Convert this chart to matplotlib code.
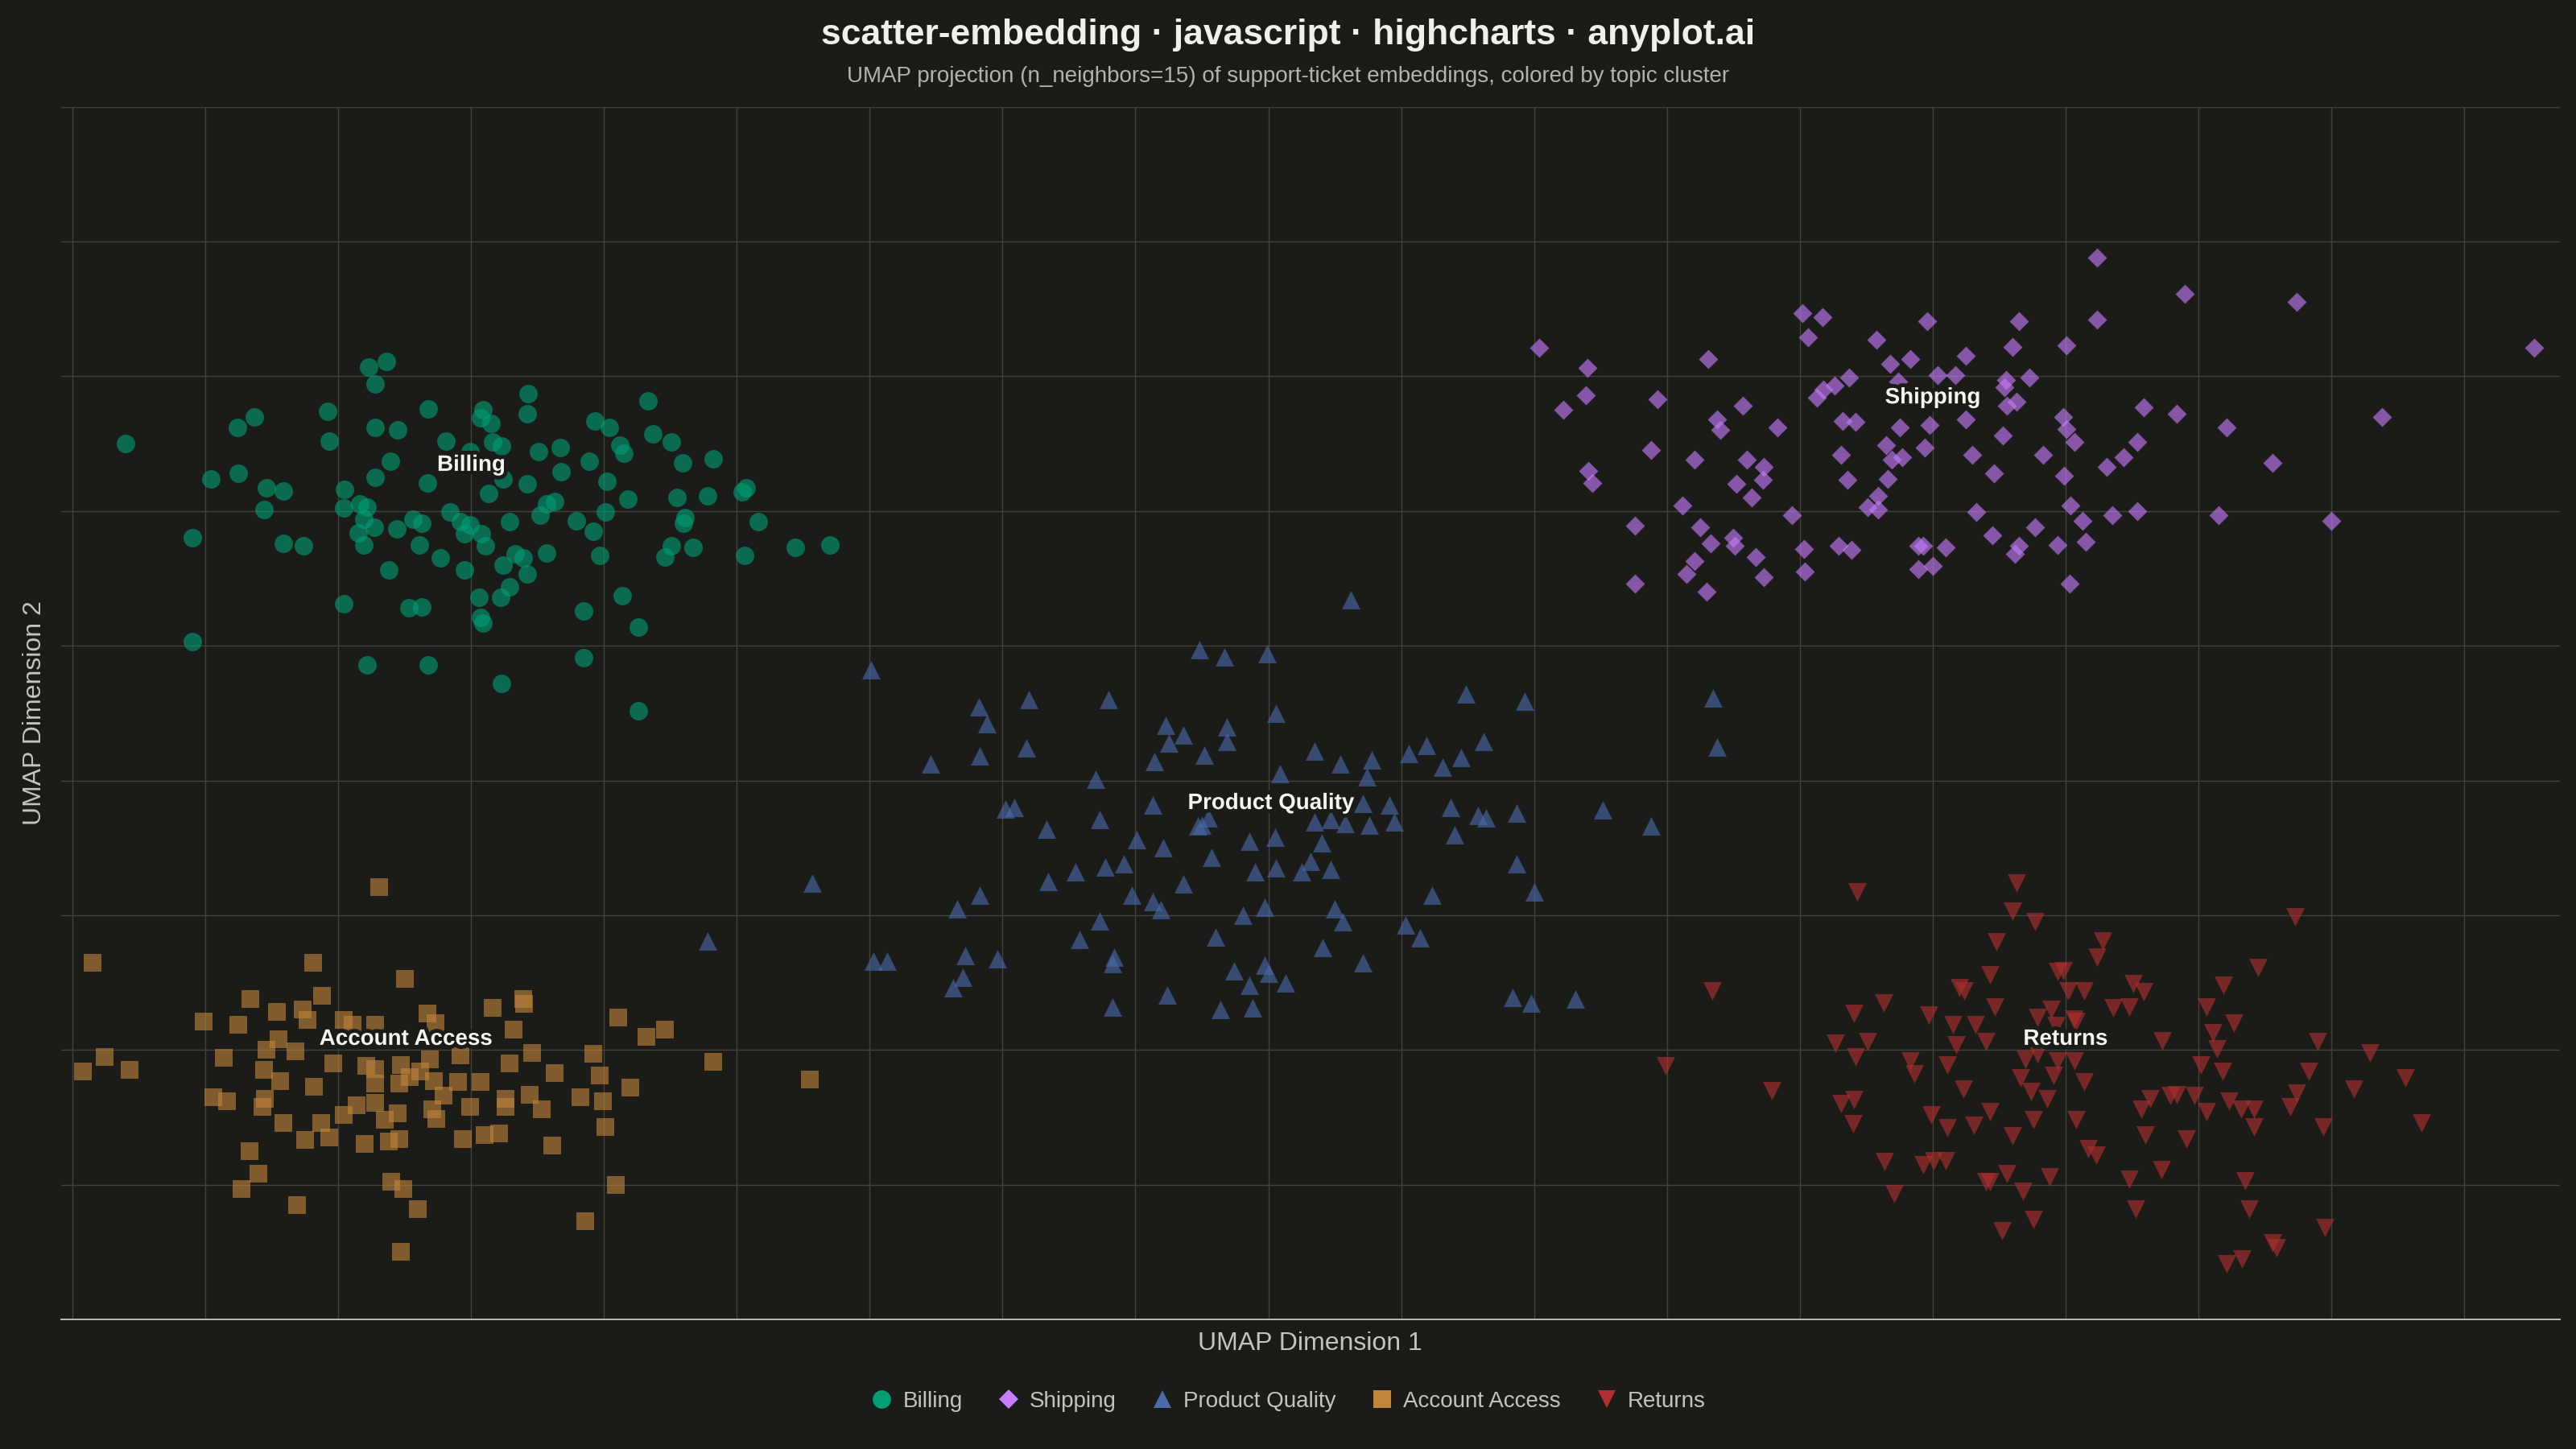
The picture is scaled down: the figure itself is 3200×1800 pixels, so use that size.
import matplotlib
matplotlib.use('Agg')
import matplotlib.pyplot as plt
import matplotlib.patheffects as pe
from matplotlib.lines import Line2D
import numpy as np

plt.rcParams['font.family'] = ['Liberation Sans', 'DejaVu Sans']

# UMAP coordinates (x, y), one list per topic cluster
BILLING = [
    (0.40, 6.50), (1.24, 6.62), (1.37, 6.70), (1.92, 6.74), (1.93, 6.52), (2.23, 7.07),
    (2.36, 7.11), (2.28, 6.94), (2.28, 6.62), (2.45, 6.60), (2.68, 6.76), (3.09, 6.75),
    (3.07, 6.69), (3.15, 6.65), (3.43, 6.87), (3.42, 6.72), (4.33, 6.82), (3.93, 6.67),
    (4.04, 6.62), (4.37, 6.57), (4.51, 6.51), (4.12, 6.49), (4.15, 6.43), (4.82, 6.39),
    (4.59, 6.36), (2.81, 6.52), (2.99, 6.44), (3.16, 6.51), (3.23, 6.48), (3.51, 6.44),
    (3.67, 6.47), (3.89, 6.37), (3.68, 6.29), (2.39, 6.37), (2.28, 6.25), (2.67, 6.21),
    (3.24, 6.24), (3.42, 6.20), (3.13, 6.13), (4.02, 6.22), (4.18, 6.09), (4.55, 6.10),
    (4.78, 6.11), (5.04, 6.14), (5.07, 6.17), (1.04, 6.24), (1.25, 6.28), (1.46, 6.17),
    (1.59, 6.15), (1.44, 6.01), (2.05, 6.16), (2.04, 6.02), (2.16, 6.05), (2.22, 6.03),
    (2.19, 5.94), (2.27, 5.88), (2.15, 5.84), (2.19, 5.75), (2.44, 5.87), (2.56, 5.94),
    (2.63, 5.91), (2.84, 5.99), (2.92, 5.92), (2.99, 5.90), (2.95, 5.83), (3.08, 5.83),
    (3.11, 5.74), (3.29, 5.92), (3.52, 5.97), (3.57, 6.05), (3.63, 6.07), (3.79, 5.93),
    (3.92, 5.85), (4.01, 5.99), (4.61, 5.95), (4.60, 5.91), (5.16, 5.92), (0.90, 5.80),
    (1.59, 5.76), (1.74, 5.74), (2.61, 5.75), (2.77, 5.65), (2.38, 5.56), (2.95, 5.56),
    (3.24, 5.60), (3.33, 5.68), (3.39, 5.65), (3.42, 5.53), (3.57, 5.69), (3.97, 5.67),
    (4.51, 5.74), (4.46, 5.66), (4.67, 5.73), (5.06, 5.67), (5.44, 5.73), (5.70, 5.75),
    (3.29, 5.44), (3.22, 5.36), (3.06, 5.36), (3.07, 5.21), (3.09, 5.17), (2.04, 5.31),
    (2.53, 5.28), (2.63, 5.29), (3.85, 5.26), (4.14, 5.37), (4.26, 5.14), (0.90, 5.03),
    (2.22, 4.86), (2.68, 4.86), (3.85, 4.91), (3.23, 4.72), (4.26, 4.52),
]

SHIPPING = [
    (15.24, 7.88), (15.90, 7.61), (16.74, 7.55), (13.02, 7.47), (13.17, 7.44), (13.96, 7.41),
    (14.65, 7.41), (15.24, 7.42), (13.06, 7.29), (13.58, 7.27), (14.60, 7.22), (15.01, 7.23),
    (11.04, 7.21), (18.53, 7.21), (12.31, 7.13), (11.40, 7.06), (13.68, 7.09), (13.83, 7.13),
    (14.25, 7.15), (14.04, 7.01), (14.17, 7.01), (14.55, 6.97), (14.73, 6.99), (13.37, 6.99),
    (13.26, 6.93), (13.18, 6.90), (13.13, 6.84), (13.74, 6.96), (14.54, 6.92), (14.56, 6.78),
    (14.63, 6.81), (11.39, 6.86), (11.22, 6.75), (11.93, 6.83), (12.57, 6.78), (12.38, 6.68),
    (12.40, 6.60), (12.83, 6.62), (13.32, 6.67), (13.42, 6.66), (14.25, 6.68), (13.75, 6.62),
    (13.98, 6.64), (14.98, 6.70), (15.01, 6.61), (15.59, 6.77), (15.84, 6.72), (16.21, 6.62),
    (17.38, 6.70), (14.53, 6.56), (15.07, 6.51), (15.54, 6.51), (13.65, 6.49), (13.94, 6.47),
    (11.88, 6.45), (12.21, 6.38), (12.60, 6.38), (12.73, 6.33), (13.31, 6.42), (13.69, 6.38),
    (13.77, 6.40), (14.30, 6.42), (14.83, 6.42), (15.44, 6.40), (15.31, 6.33), (16.56, 6.36),
    (11.41, 6.30), (11.44, 6.21), (12.52, 6.20), (12.72, 6.23), (13.36, 6.23), (13.66, 6.24),
    (14.46, 6.28), (14.99, 6.26), (12.64, 6.10), (13.59, 6.11), (13.51, 6.03), (13.59, 6.01),
    (12.12, 6.04), (12.94, 5.97), (14.33, 5.99), (15.04, 6.04), (15.13, 5.93), (15.35, 5.97),
    (15.54, 6.00), (16.15, 5.97), (17.00, 5.93), (11.76, 5.89), (12.25, 5.88), (12.33, 5.76),
    (12.50, 5.80), (12.51, 5.74), (12.67, 5.66), (13.03, 5.72), (13.29, 5.74), (13.39, 5.71),
    (13.89, 5.74), (13.93, 5.74), (14.10, 5.73), (14.45, 5.82), (14.77, 5.88), (14.65, 5.74),
    (14.62, 5.68), (14.94, 5.75), (15.15, 5.77), (12.21, 5.63), (12.15, 5.53), (12.73, 5.51),
    (13.04, 5.55), (13.89, 5.57), (14.00, 5.59), (11.76, 5.46), (12.30, 5.40), (15.03, 5.46),
]

PRODUCT_QUALITY = [
    (9.62, 5.34), (8.48, 4.97), (8.67, 4.92), (8.99, 4.94), (6.01, 4.82), (6.82, 4.55),
    (7.20, 4.60), (7.80, 4.60), (6.88, 4.42), (6.83, 4.18), (7.18, 4.24), (6.46, 4.12),
    (9.06, 4.50), (8.23, 4.41), (8.36, 4.34), (8.25, 4.28), (8.69, 4.40), (8.69, 4.29),
    (8.52, 4.19), (8.14, 4.14), (7.70, 4.01), (9.09, 4.05), (10.49, 4.64), (10.93, 4.59),
    (12.35, 4.61), (12.38, 4.25), (10.62, 4.29), (10.19, 4.26), (10.06, 4.20), (10.45, 4.17),
    (10.31, 4.10), (9.35, 4.22), (9.54, 4.12), (9.78, 4.15), (9.74, 4.03), (7.02, 3.79),
    (7.09, 3.80), (8.13, 3.82), (7.73, 3.71), (7.33, 3.64), (9.71, 3.83), (9.91, 3.82),
    (10.37, 3.80), (10.58, 3.74), (10.64, 3.72), (10.87, 3.76), (11.52, 3.78), (11.88, 3.66),
    (10.40, 3.60), (9.95, 3.69), (9.76, 3.67), (9.58, 3.68), (9.47, 3.71), (9.35, 3.69),
    (8.55, 3.72), (8.50, 3.67), (8.47, 3.66), (8.01, 3.56), (8.21, 3.50), (8.86, 3.55),
    (9.05, 3.58), (9.40, 3.54), (8.57, 3.43), (9.32, 3.40), (9.25, 3.32), (9.47, 3.34),
    (9.06, 3.35), (8.90, 3.32), (7.91, 3.38), (7.77, 3.36), (7.55, 3.32), (7.34, 3.25),
    (8.36, 3.23), (10.87, 3.38), (11.00, 3.17), (10.23, 3.15), (5.57, 3.24), (6.83, 3.15),
    (6.66, 3.05), (7.97, 3.15), (8.13, 3.10), (8.19, 3.04), (8.97, 3.06), (8.81, 3.00),
    (9.50, 3.05), (9.56, 2.95), (10.03, 2.93), (10.14, 2.83), (4.78, 2.81), (7.73, 2.96),
    (7.58, 2.82), (8.60, 2.84), (9.41, 2.76), (9.71, 2.65), (6.03, 2.66), (6.13, 2.66),
    (6.72, 2.70), (6.96, 2.68), (7.84, 2.69), (7.83, 2.64), (6.70, 2.54), (6.63, 2.46),
    (8.74, 2.59), (8.97, 2.63), (9.00, 2.57), (8.86, 2.48), (9.13, 2.50), (8.24, 2.41),
    (7.83, 2.32), (8.64, 2.30), (8.88, 2.31), (10.84, 2.39), (10.98, 2.35), (11.31, 2.38),
]

ACCOUNT_ACCESS = [
    (2.31, 3.21), (0.15, 2.65), (1.81, 2.65), (2.50, 2.53), (1.34, 2.38), (1.88, 2.40),
    (1.54, 2.28), (1.73, 2.30), (1.77, 2.22), (0.99, 2.21), (1.25, 2.19), (2.04, 2.22),
    (2.11, 2.19), (2.28, 2.19), (2.67, 2.27), (2.73, 2.20), (3.16, 2.31), (3.39, 2.38),
    (3.40, 2.34), (3.32, 2.15), (4.11, 2.24), (4.46, 2.15), (4.32, 2.10), (1.55, 2.08),
    (1.46, 2.00), (1.68, 1.99), (0.24, 1.95), (0.08, 1.84), (0.43, 1.85), (1.14, 1.94),
    (1.44, 1.85), (1.56, 1.77), (1.96, 1.90), (2.21, 1.88), (2.28, 1.86), (2.47, 1.89),
    (2.69, 1.93), (2.92, 1.96), (2.62, 1.84), (2.28, 1.75), (2.46, 1.75), (2.54, 1.80),
    (2.72, 1.77), (2.90, 1.76), (3.07, 1.76), (3.29, 1.90), (3.46, 1.98), (3.92, 1.97),
    (3.63, 1.83), (3.97, 1.81), (4.20, 1.72), (4.82, 1.91), (5.55, 1.78), (1.82, 1.73),
    (1.06, 1.65), (1.16, 1.62), (1.45, 1.64), (1.43, 1.58), (2.79, 1.66), (3.26, 1.64),
    (3.44, 1.67), (3.53, 1.56), (2.99, 1.58), (3.82, 1.65), (3.99, 1.62), (3.26, 1.58),
    (2.14, 1.59), (2.28, 1.61), (2.04, 1.52), (2.45, 1.53), (2.35, 1.48), (2.71, 1.56),
    (2.74, 1.49), (1.59, 1.46), (1.87, 1.46), (1.93, 1.35), (1.75, 1.33), (2.20, 1.30),
    (2.38, 1.32), (2.46, 1.34), (2.94, 1.34), (3.10, 1.37), (3.21, 1.38), (4.01, 1.43),
    (3.61, 1.29), (1.33, 1.25), (1.40, 1.08), (1.27, 0.97), (2.40, 1.02), (2.49, 0.97),
    (4.09, 1.00), (1.69, 0.85), (2.60, 0.82), (3.86, 0.73), (2.47, 0.50),
]

RETURNS = [
    (13.43, 3.17), (14.63, 3.24), (14.60, 3.03), (14.77, 2.95), (16.73, 2.99), (14.48, 2.80),
    (15.28, 2.81), (15.24, 2.69), (16.45, 2.61), (14.43, 2.56), (14.94, 2.58), (14.98, 2.59),
    (12.34, 2.44), (14.20, 2.46), (14.24, 2.44), (16.19, 2.48), (15.51, 2.49), (15.59, 2.43),
    (15.02, 2.44), (15.14, 2.44), (13.63, 2.35), (13.41, 2.27), (13.97, 2.26), (14.47, 2.32),
    (14.89, 2.30), (14.79, 2.24), (15.06, 2.23), (15.08, 2.21), (15.36, 2.31), (15.48, 2.32),
    (16.06, 2.32), (16.27, 2.20), (16.11, 2.13), (14.15, 2.19), (14.32, 2.19), (14.93, 2.18),
    (13.27, 2.05), (13.51, 2.06), (14.18, 2.04), (14.40, 2.06), (15.73, 2.07), (16.14, 2.01),
    (16.90, 2.06), (17.29, 1.98), (11.99, 1.88), (13.42, 1.95), (13.83, 1.92), (14.11, 1.89),
    (14.70, 1.93), (14.79, 1.97), (14.94, 1.92), (15.07, 1.92), (16.02, 1.89), (16.18, 1.84),
    (16.83, 1.84), (17.56, 1.79), (13.86, 1.82), (14.66, 1.79), (14.91, 1.81), (15.14, 1.76),
    (12.79, 1.70), (14.23, 1.71), (14.74, 1.69), (14.86, 1.64), (17.17, 1.71), (13.31, 1.60),
    (13.41, 1.63), (15.64, 1.64), (15.57, 1.56), (15.79, 1.66), (15.84, 1.67), (15.97, 1.66),
    (16.23, 1.62), (16.32, 1.56), (16.42, 1.56), (16.74, 1.68), (16.69, 1.58), (16.06, 1.54),
    (13.40, 1.45), (13.99, 1.52), (14.43, 1.54), (14.76, 1.48), (15.08, 1.48), (14.11, 1.42),
    (14.31, 1.44), (14.60, 1.36), (15.60, 1.37), (15.91, 1.34), (16.42, 1.43), (16.94, 1.43),
    (17.68, 1.46), (15.17, 1.27), (15.23, 1.22), (13.64, 1.17), (13.93, 1.15), (14.01, 1.18),
    (14.10, 1.18), (14.56, 1.08), (14.40, 1.02), (14.43, 1.02), (14.88, 1.06), (15.48, 1.04),
    (15.72, 1.11), (16.35, 1.03), (14.68, 0.95), (13.71, 0.93), (15.53, 0.82), (16.38, 0.82),
    (14.76, 0.74), (14.52, 0.66), (16.95, 0.68), (16.56, 0.57), (16.59, 0.53), (16.33, 0.45),
    (16.21, 0.41),
]

TOPICS = ['Billing', 'Shipping', 'Product Quality', 'Account Access', 'Returns']
# where the cluster names sit on the chart
LABEL_X = [3.00, 14.00, 9.02, 2.51, 15.00]
LABEL_Y = [6.34, 6.84, 3.83, 2.08, 2.08]

BG = '#1b1b18'
COLORS = ['#009e73', '#c77dff', '#4a6aab', '#c0843a', '#b03030']
MARKERS = ['o', 'D', '^', 's', 'v']
SIZES = [68, 37, 68, 66, 68]          # scatter areas (pt^2)
LEG_SIZES = [8.2, 6.0, 8.2, 8.0, 8.2]  # legend marker sizes (pt)
GRID = '#42423e'
TEXT = '#c4c4bc'

fig = plt.figure(figsize=(16, 9), dpi=200, facecolor=BG)
ax = fig.add_axes([0.0236, 0.0894, 0.9701, 0.8369])
ax.set_facecolor(BG)

for pts, color, marker, size in zip(
        [BILLING, SHIPPING, PRODUCT_QUALITY, ACCOUNT_ACCESS, RETURNS],
        COLORS, MARKERS, SIZES):
    xy = np.array(pts)
    ax.scatter(xy[:, 0], xy[:, 1], s=size, c=color, marker=marker,
               alpha=0.62, linewidths=0, zorder=3)

for name, lx, ly in zip(TOPICS, LABEL_X, LABEL_Y):
    ax.text(lx, ly, name, ha='center', va='center', fontsize=10,
            fontweight='bold', color='#f5f4ee', zorder=5,
            path_effects=[pe.withStroke(linewidth=3.5, foreground=BG)])

ax.set_xlim(-0.088, 18.72)
ax.set_ylim(0, 9)
ax.set_xticks(np.arange(0, 19))
ax.set_yticks(np.arange(0, 10))
ax.tick_params(length=0, labelbottom=False, labelleft=False)
ax.grid(True, color=GRID, linewidth=0.5, zorder=0)
ax.set_axisbelow(True)
for side in ['top', 'left', 'right']:
    ax.spines[side].set_visible(False)
ax.spines['bottom'].set_color('#bdbdb5')
ax.spines['bottom'].set_linewidth(0.7)

fig.text(0.5, 1 - 55 / 1800, 'scatter-embedding · javascript · highcharts · anyplot.ai',
         ha='center', va='baseline', fontsize=16, fontweight='bold',
         color='#f0efe8')
fig.text(0.5, 1 - 102 / 1800,
         'UMAP projection (n_neighbors=15) of support-ticket embeddings, '
         'colored by topic cluster',
         ha='center', va='baseline', fontsize=10, color='#b3b3ab')

fig.text(0.5086, 0.0728, 'UMAP Dimension 1', ha='center', va='center',
         fontsize=11.5, color=TEXT)
fig.text(0.0134, 0.508, 'UMAP Dimension 2', ha='center', va='center',
         rotation=90, fontsize=11.5, color=TEXT)

handles = [Line2D([], [], linestyle='none', marker=m, color=c, markersize=ms,
                  markeredgewidth=0)
           for m, c, ms in zip(MARKERS, COLORS, LEG_SIZES)]
leg = fig.legend(handles, TOPICS, loc='center', bbox_to_anchor=(0.5, 0.033),
                 ncol=5, frameon=False, fontsize=10, handlelength=1.0,
                 handletextpad=0.45, columnspacing=1.55)
for t in leg.get_texts():
    t.set_color(TEXT)

fig.savefig('out.png', dpi=200, facecolor=BG)
